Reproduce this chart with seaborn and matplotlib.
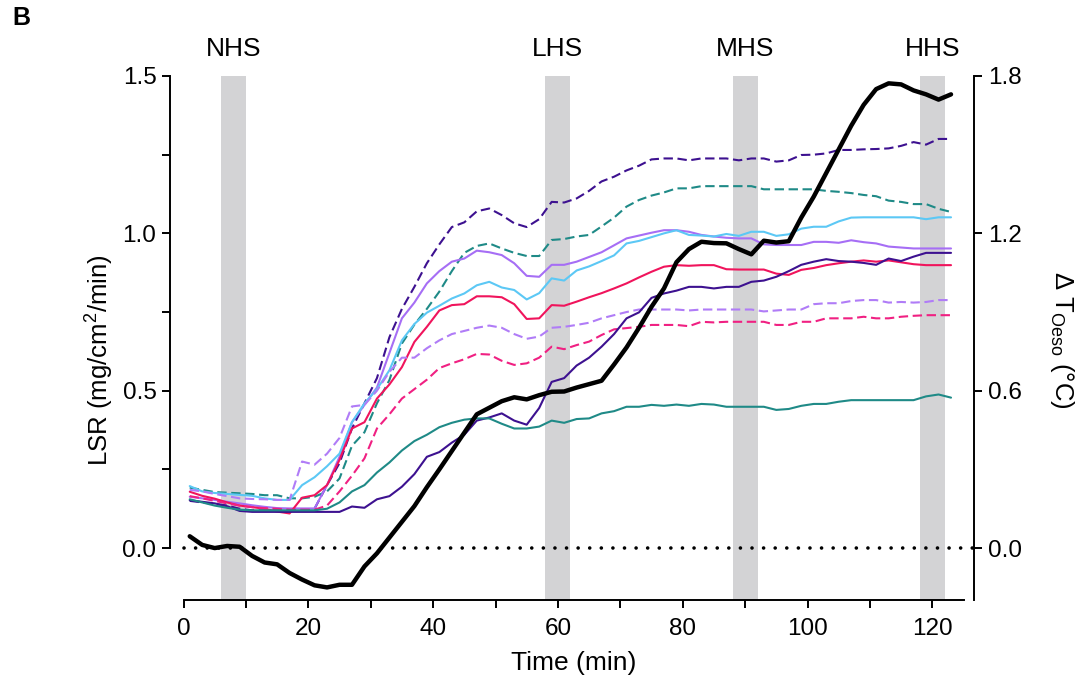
import numpy as np
import pandas as pd
import seaborn as sns
import matplotlib.pyplot as plt

# ---------------- data ----------------
time = list(range(1, 124, 2))  # minutes

dp_dash = [0.150, 0.145, 0.140, 0.135, 0.125, 0.120, 0.120, 0.120, 0.120, 0.120, 0.125, 0.200,
           0.270, 0.380, 0.460, 0.540, 0.670, 0.760, 0.830, 0.905, 0.965, 1.020, 1.035, 1.070,
           1.079, 1.058, 1.032, 1.020, 1.045, 1.100, 1.098, 1.111, 1.135, 1.165, 1.180, 1.200,
           1.215, 1.235, 1.238, 1.238, 1.232, 1.238, 1.238, 1.238, 1.232, 1.238, 1.238, 1.228,
           1.232, 1.249, 1.250, 1.254, 1.265, 1.265, 1.267, 1.268, 1.270, 1.278, 1.290, 1.282,
           1.300, 1.300]
tl_dash = [0.192, 0.185, 0.178, 0.176, 0.174, 0.172, 0.168, 0.168, 0.158, 0.158, 0.163, 0.180,
           0.221, 0.325, 0.368, 0.460, 0.534, 0.650, 0.710, 0.760, 0.815, 0.880, 0.938, 0.960,
           0.968, 0.952, 0.938, 0.928, 0.928, 0.979, 0.982, 0.990, 0.995, 1.022, 1.050, 1.085,
           1.106, 1.120, 1.130, 1.143, 1.143, 1.150, 1.150, 1.150, 1.150, 1.150, 1.140, 1.140,
           1.140, 1.140, 1.140, 1.135, 1.132, 1.128, 1.122, 1.118, 1.104, 1.100, 1.093, 1.093,
           1.078, 1.068]
lv_solid = [0.163, 0.158, 0.153, 0.147, 0.142, 0.136, 0.131, 0.127, 0.126, 0.126, 0.126, 0.200,
            0.290, 0.400, 0.455, 0.510, 0.620, 0.730, 0.780, 0.841, 0.880, 0.910, 0.920, 0.945,
            0.940, 0.931, 0.905, 0.865, 0.862, 0.900, 0.900, 0.910, 0.925, 0.940, 0.962, 0.984,
            0.993, 1.002, 1.010, 1.010, 1.005, 0.995, 0.990, 0.986, 0.984, 0.984, 0.965, 0.963,
            0.963, 0.963, 0.973, 0.973, 0.970, 0.978, 0.972, 0.968, 0.958, 0.955, 0.952, 0.952,
            0.952, 0.952]
lb_solid = [0.197, 0.180, 0.175, 0.172, 0.169, 0.166, 0.158, 0.153, 0.153, 0.200, 0.225, 0.260,
            0.300, 0.400, 0.460, 0.505, 0.565, 0.660, 0.712, 0.748, 0.770, 0.793, 0.809, 0.835,
            0.846, 0.828, 0.820, 0.790, 0.810, 0.857, 0.850, 0.882, 0.895, 0.912, 0.930, 0.968,
            0.976, 0.988, 1.000, 1.010, 0.995, 0.993, 0.990, 0.998, 0.992, 1.005, 1.005, 0.992,
            0.997, 1.015, 1.021, 1.021, 1.038, 1.050, 1.051, 1.051, 1.051, 1.051, 1.051, 1.045,
            1.051, 1.051]
pk_solid = [0.179, 0.166, 0.157, 0.145, 0.135, 0.130, 0.125, 0.116, 0.110, 0.160, 0.168, 0.200,
            0.280, 0.380, 0.400, 0.475, 0.520, 0.575, 0.655, 0.703, 0.755, 0.772, 0.775, 0.800,
            0.800, 0.797, 0.775, 0.728, 0.730, 0.772, 0.770, 0.783, 0.797, 0.810, 0.825, 0.841,
            0.860, 0.878, 0.894, 0.899, 0.897, 0.899, 0.899, 0.886, 0.885, 0.885, 0.885, 0.872,
            0.868, 0.884, 0.890, 0.899, 0.905, 0.910, 0.914, 0.910, 0.914, 0.908, 0.902, 0.899,
            0.899, 0.899]
lv_dash = [0.185, 0.180, 0.172, 0.165, 0.158, 0.156, 0.155, 0.153, 0.153, 0.275, 0.265, 0.300,
           0.350, 0.450, 0.455, 0.500, 0.560, 0.605, 0.605, 0.635, 0.660, 0.680, 0.690, 0.700,
           0.707, 0.700, 0.680, 0.665, 0.672, 0.700, 0.703, 0.709, 0.716, 0.730, 0.740, 0.750,
           0.758, 0.758, 0.758, 0.758, 0.755, 0.758, 0.758, 0.758, 0.758, 0.758, 0.752, 0.755,
           0.758, 0.758, 0.775, 0.778, 0.778, 0.785, 0.788, 0.788, 0.780, 0.782, 0.780, 0.782,
           0.788, 0.788]
pk_dash = [0.165, 0.158, 0.150, 0.142, 0.135, 0.130, 0.127, 0.125, 0.122, 0.122, 0.122, 0.135,
           0.180, 0.230, 0.285, 0.380, 0.425, 0.475, 0.505, 0.535, 0.572, 0.587, 0.600, 0.617,
           0.615, 0.595, 0.582, 0.587, 0.605, 0.640, 0.632, 0.645, 0.656, 0.677, 0.695, 0.699,
           0.703, 0.709, 0.709, 0.709, 0.705, 0.719, 0.717, 0.719, 0.719, 0.719, 0.719, 0.709,
           0.709, 0.719, 0.719, 0.730, 0.730, 0.730, 0.735, 0.730, 0.730, 0.735, 0.738, 0.740,
           0.740, 0.740]
dp_solid = [0.152, 0.147, 0.142, 0.133, 0.118, 0.115, 0.115, 0.115, 0.115, 0.115, 0.115, 0.115,
            0.115, 0.132, 0.128, 0.155, 0.165, 0.195, 0.235, 0.290, 0.305, 0.335, 0.360, 0.405,
            0.415, 0.428, 0.405, 0.392, 0.445, 0.528, 0.540, 0.580, 0.605, 0.640, 0.680, 0.730,
            0.749, 0.795, 0.809, 0.818, 0.830, 0.830, 0.825, 0.830, 0.830, 0.846, 0.850, 0.862,
            0.880, 0.900, 0.910, 0.918, 0.912, 0.910, 0.906, 0.900, 0.920, 0.912, 0.926, 0.938,
            0.938, 0.938]
tl_solid = [0.155, 0.145, 0.135, 0.128, 0.122, 0.120, 0.120, 0.120, 0.120, 0.120, 0.120, 0.125,
            0.145, 0.180, 0.200, 0.240, 0.272, 0.310, 0.340, 0.360, 0.384, 0.398, 0.408, 0.412,
            0.412, 0.395, 0.380, 0.380, 0.386, 0.405, 0.398, 0.410, 0.412, 0.428, 0.435, 0.449,
            0.449, 0.455, 0.452, 0.456, 0.452, 0.458, 0.456, 0.449, 0.449, 0.449, 0.449, 0.439,
            0.442, 0.452, 0.458, 0.458, 0.465, 0.470, 0.470, 0.470, 0.470, 0.470, 0.470, 0.482,
            0.488, 0.478]
# oesophageal temperature change (right axis, degC)
d_t_oeso = [0.045, 0.012, 0.000, 0.008, 0.005, -0.030, -0.055, -0.062, -0.095, -0.120, -0.142, -0.150,
            -0.140, -0.140, -0.070, -0.020, 0.040, 0.100, 0.160, 0.232, 0.300, 0.370, 0.440, 0.510,
            0.535, 0.560, 0.575, 0.567, 0.583, 0.596, 0.597, 0.612, 0.625, 0.638, 0.700, 0.765,
            0.840, 0.920, 0.990, 1.090, 1.140, 1.168, 1.163, 1.162, 1.140, 1.120, 1.172, 1.165,
            1.170, 1.260, 1.340, 1.430, 1.520, 1.610, 1.690, 1.750, 1.772, 1.768, 1.745, 1.730,
            1.710, 1.730]

phase_names = ["NHS", "LHS", "MHS", "HHS"]
phase_start = [6, 58, 88, 118]
phase_end = [10, 62, 92, 122]

series_order = ["dp_dash", "tl_dash", "lv_solid", "lb_solid", "pk_solid",
                "lv_dash", "pk_dash", "dp_solid", "tl_solid"]
series_vals = [dp_dash, tl_dash, lv_solid, lb_solid, pk_solid,
               lv_dash, pk_dash, dp_solid, tl_solid]

palette = {"dp_dash": "#3d1190", "tl_dash": "#1f8a87", "lv_solid": "#a66ef5",
           "lb_solid": "#5cc8f5", "pk_solid": "#f0145c", "lv_dash": "#b07cf7",
           "pk_dash": "#f02082", "dp_solid": "#3d1190", "tl_solid": "#1f8a87"}
dash_map = {k: ((4.5, 2.2) if k.endswith("dash") else "") for k in series_order}

df = pd.concat([pd.DataFrame({"time": time, "lsr": v, "series": n})
                for n, v in zip(series_order, series_vals)], ignore_index=True)

# ---------------- figure ----------------
sns.set_theme(style="ticks")
plt.rcParams["font.family"] = ["Liberation Sans", "DejaVu Sans"]
plt.rcParams["mathtext.default"] = "regular"
plt.rcParams["text.color"] = "black"
plt.rcParams["axes.labelcolor"] = "black"
plt.rcParams["xtick.color"] = "black"
plt.rcParams["ytick.color"] = "black"

fig = plt.figure(figsize=(10.86, 6.83), dpi=100)
ax = fig.add_axes([183.5 / 1086, 83 / 683, 780 / 1086, 524 / 683])
ax.set_xlim(0, 125)
ax.set_ylim(-0.165, 1.5)

for s, e in zip(phase_start, phase_end):
    ax.axvspan(s, e, color="#d3d3d5", lw=0, zorder=0)
for name, s, e in zip(phase_names, phase_start, phase_end):
    ax.text((s + e) / 2, 1.585, name, ha="center", va="center", fontsize=19,
            color="black", clip_on=False)

sns.lineplot(data=df, x="time", y="lsr", hue="series", style="series",
             hue_order=series_order, style_order=series_order,
             palette=palette, dashes=dash_map, linewidth=1.5, legend=False, ax=ax)

ax2 = ax.twinx()
ax2.set_ylim(-0.198, 1.8)
ax2.axhline(0, xmin=0, xmax=1.014, color="black", lw=2.6, linestyle=(0, (0.01, 3.2)),
            dash_capstyle="round", clip_on=False, zorder=1)
sns.lineplot(x=time, y=d_t_oeso, color="black", linewidth=3.2, ax=ax2)

# axes styling (Prism-like offset spines)
for a in (ax, ax2):
    a.spines["top"].set_visible(False)
    for sp in a.spines.values():
        sp.set_linewidth(1.4)
        sp.set_color("black")
ax.spines["right"].set_visible(False)
ax2.spines["left"].set_visible(False)
ax2.spines["bottom"].set_visible(False)
ax.spines["left"].set_position(("outward", 9.5))
ax.spines["left"].set_bounds(0, 1.5)
ax2.spines["right"].set_position(("outward", 7.5))
ax.spines["bottom"].set_bounds(0, 125)

ax.set_yticks([0.0, 0.5, 1.0, 1.5])
ax.set_yticklabels(["0.0", "0.5", "1.0", "1.5"])
ax.set_yticks([0.25, 0.75, 1.25], minor=True)
ax.set_xticks([0, 20, 40, 60, 80, 100, 120])
ax.set_xticks([10, 30, 50, 70, 90, 110], minor=True)
ax2.set_yticks([0.0, 0.6, 1.2, 1.8])
ax2.set_yticklabels(["0.0", "0.6", "1.2", "1.8"])

for a in (ax, ax2):
    a.tick_params(which="both", direction="out", length=6, width=1.4, color="black",
                  labelsize=17.5, labelcolor="black", pad=4)
ax.tick_params(axis="x", which="both", pad=7)

ax.set_xlabel("Time (min)", fontsize=19, labelpad=8, color="black")
ax.set_ylabel("")
ax2.set_ylabel("")
ax.grid(False)
ax2.grid(False)

fig.text(100 / 1086, 1 - 360 / 683, "LSR (mg/cm$^{2}$/min)", rotation=90,
         ha="center", va="center", fontsize=18.5, color="black")
fig.text(1062 / 1086, 1 - 340 / 683, "Δ T$_{Oeso}$ (°C)", rotation=270,
         ha="center", va="center", fontsize=18.5, color="black")
fig.text(12 / 1086, 1 - 18 / 683, "B", fontsize=18, fontweight="bold", ha="left",
         va="center", color="black")

fig.savefig("out.png", dpi=100)
